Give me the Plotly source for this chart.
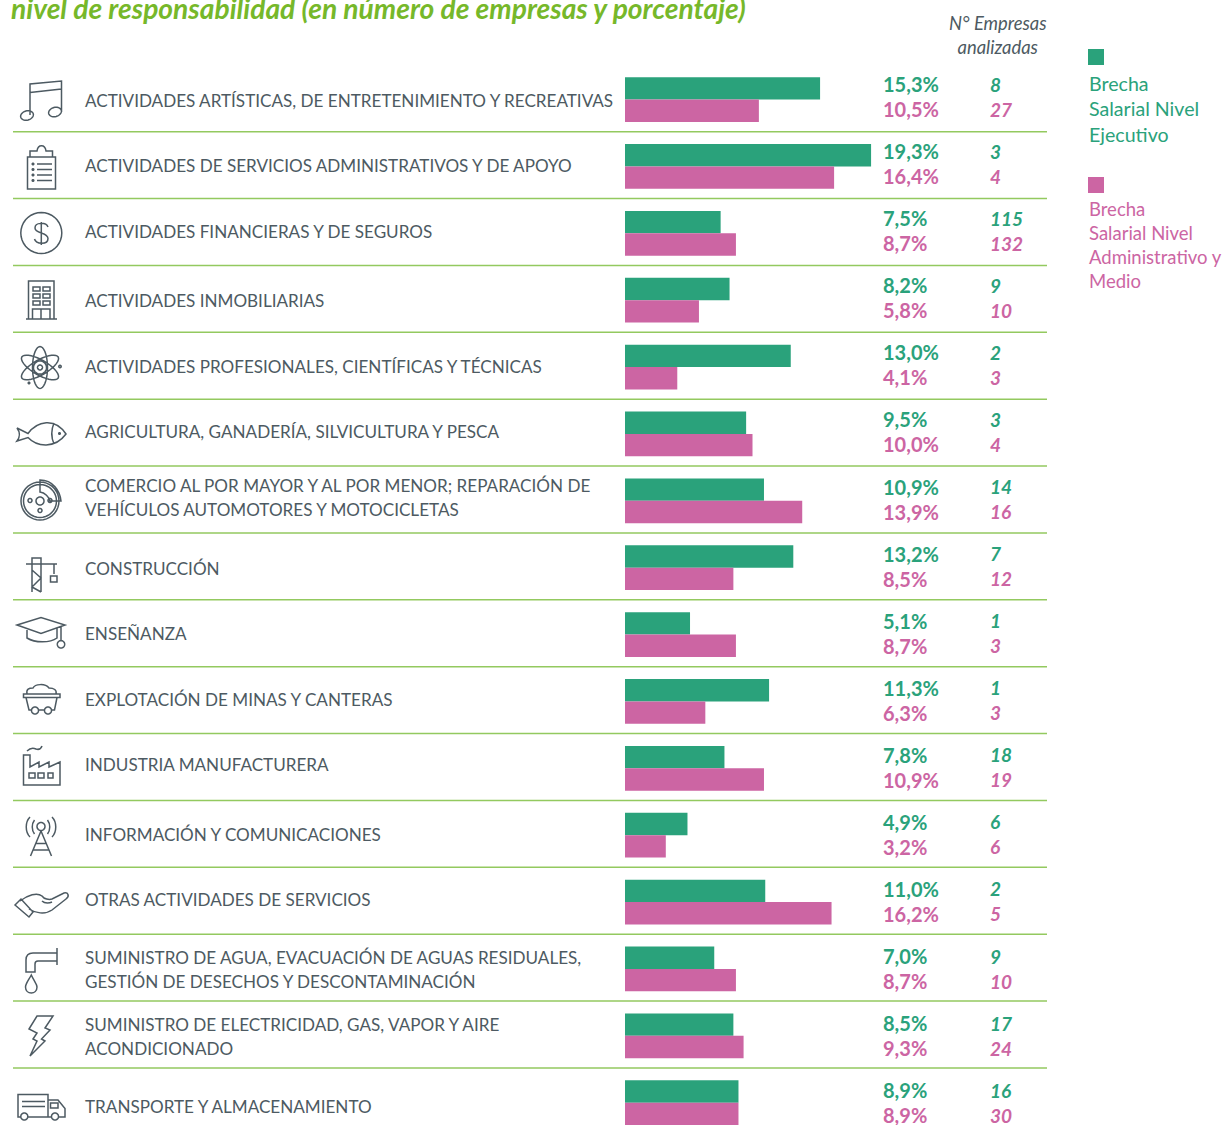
import math
import plotly.graph_objects as go

# ---------- data ----------
SECTORS = [
    "ACTIVIDADES ARTÍSTICAS, DE ENTRETENIMIENTO Y RECREATIVAS",
    "ACTIVIDADES DE SERVICIOS ADMINISTRATIVOS Y DE APOYO",
    "ACTIVIDADES FINANCIERAS Y DE SEGUROS",
    "ACTIVIDADES INMOBILIARIAS",
    "ACTIVIDADES PROFESIONALES, CIENTÍFICAS Y TÉCNICAS",
    "AGRICULTURA, GANADERÍA, SILVICULTURA Y PESCA",
    "COMERCIO AL POR MAYOR Y AL POR MENOR; REPARACIÓN DE<br>VEHÍCULOS AUTOMOTORES Y MOTOCICLETAS",
    "CONSTRUCCIÓN",
    "ENSEÑANZA",
    "EXPLOTACIÓN DE MINAS Y CANTERAS",
    "INDUSTRIA MANUFACTURERA",
    "INFORMACIÓN Y COMUNICACIONES",
    "OTRAS ACTIVIDADES DE SERVICIOS",
    "SUMINISTRO DE AGUA, EVACUACIÓN DE AGUAS RESIDUALES,<br>GESTIÓN DE DESECHOS Y DESCONTAMINACIÓN",
    "SUMINISTRO DE ELECTRICIDAD, GAS, VAPOR Y AIRE<br>ACONDICIONADO",
    "TRANSPORTE Y ALMACENAMIENTO",
]
EJECUTIVO = [15.3, 19.3, 7.5, 8.2, 13.0, 9.5, 10.9, 13.2, 5.1, 11.3, 7.8, 4.9, 11.0, 7.0, 8.5, 8.9]
ADMINISTRATIVO = [10.5, 16.4, 8.7, 5.8, 4.1, 10.0, 13.9, 8.5, 8.7, 6.3, 10.9, 3.2, 16.2, 8.7, 9.3, 8.9]
EMPRESAS_EJECUTIVO = [8, 3, 115, 9, 2, 3, 14, 7, 1, 1, 18, 6, 2, 9, 17, 16]
EMPRESAS_ADMINISTRATIVO = [27, 4, 132, 10, 3, 4, 16, 12, 3, 3, 19, 6, 5, 10, 24, 30]
SERIES_EJECUTIVO = "Brecha<br>Salarial Nivel<br>Ejecutivo"
SERIES_ADMINISTRATIVO = "Brecha<br>Salarial Nivel<br>Administrativo y<br>Medio"
TITLE = "nivel de responsabilidad (en número de empresas y porcentaje)"
HEADER = "N° Empresas<br>analizadas"

# ---------- style / layout ----------
W, H = 1223, 1125
GREEN, PINK, GREY = "#2AA27B", "#CC65A3", "#4D5A62"
RULE, TITLE_GREEN = "#93C95F", "#76B82A"
FONT = "Lato"
PX_PER_PCT = 12.75
BAR_X0 = 625
ROW0 = 99.6
ROW_H = 66.87
LABEL_Y = [100, 165, 231, 300, 366, 431, 497, 568, 633, 699, 764, 834, 899, 969, 1036, 1106]

rows = list(range(len(SECTORS)))
fig = go.Figure()
fig.add_bar(y=rows, x=EJECUTIVO, orientation="h", marker=dict(color=GREEN, line_width=0),
            name="Ejecutivo", hoverinfo="skip")
fig.add_bar(y=rows, x=ADMINISTRATIVO, orientation="h", marker=dict(color=PINK, line_width=0),
            name="Administrativo y Medio", hoverinfo="skip")

ann = []
def text(x, y, s, size, color, xanchor="left", italic=False, bold=False, yref="y2", yshift=0, font=FONT, align="left"):
    ann.append(dict(x=x, y=y, xref="x2", yref=yref, text=s, showarrow=False, xanchor=xanchor,
                    yanchor="middle", align=align, yshift=yshift, borderpad=0,
                    font=dict(family=font, size=size, color=color,
                              style="italic" if italic else "normal",
                              weight=700 if bold else 400)))

fmt = lambda v: f"{v:.1f}%".replace(".", ",")
for i in rows:
    lines = SECTORS[i].split("<br>")
    for n, line in enumerate(lines):
        text(84, LABEL_Y[i] + 24 * (n - (len(lines) - 1) / 2), line, 17.1, GREY)
    up, down = 15.5 - 0.2 * i, -9.5 - 0.2 * i
    text(882, i, fmt(EJECUTIVO[i]), 20, GREEN, yref="y", yshift=up, bold=True)
    text(882, i, fmt(ADMINISTRATIVO[i]), 20, PINK, yref="y", yshift=down, bold=True)
    text(988.5, i, str(EMPRESAS_EJECUTIVO[i]), 19, GREEN, yref="y", yshift=up, italic=True, bold=True)
    text(988.5, i, str(EMPRESAS_ADMINISTRATIVO[i]), 19, PINK, yref="y", yshift=down, italic=True, bold=True)

text(10, 8, TITLE, 28.2, TITLE_GREEN, italic=True, bold=True)
text(998, 35, HEADER, 18.4, GREY, xanchor="center", italic=True, align="center")
text(1088, 109, SERIES_EJECUTIVO, 19.6, GREEN)
text(1088, 244.5, SERIES_ADMINISTRATIVO, 18.5, PINK)

shapes = []
for k in range(len(SECTORS) - 1):
    shapes.append(dict(type="line", xref="x2", yref="y", x0=13, x1=1047, y0=k + 0.48, y1=k + 0.48,
                       line=dict(color=RULE, width=1.5)))
shapes.append(dict(type="rect", xref="x2", yref="y2", x0=1088, x1=1104, y0=49, y1=65, fillcolor=GREEN, line_width=0))
shapes.append(dict(type="rect", xref="x2", yref="y2", x0=1088, x1=1104, y0=177, y1=193, fillcolor=PINK, line_width=0))

# ---------- decorative line icons ----------
def ell(cx, cy, rx, ry, rot=0):
    c, s = math.cos(math.radians(rot)), math.sin(math.radians(rot))
    pts = []
    for n in range(36):
        a = 2 * math.pi * n / 36
        x, y = rx * math.cos(a), ry * math.sin(a)
        pts.append(f"{cx + x * c - y * s:.2f},{cy + x * s + y * c:.2f}")
    return "M" + " L".join(pts) + " Z "

def box(x0, y0, x1, y1):
    return f"M{x0},{y0} H{x1} V{y1} H{x0} Z "

ICONS = [
    # music
    "M30,115 V84 L61.5,81 V112 M30,92.5 L61.5,89 " + ell(27, 115.5, 6.5, 4.6, -15) + ell(55, 112, 6.5, 4.6, -15),
    # clipboard
    "M30,157 H27.5 V189 H55.5 V157 H53 M30,151 H37 C38,144 45,144 46,151 H52.5 V157 H30 Z "
    "M37,164 H52 M37,169.5 H52 M37,175 H52 M37,180.5 H52 "
    + ell(33, 164, .8, .8) + ell(33, 169.5, .8, .8) + ell(33, 175, .8, .8) + ell(33, 180.5, .8, .8),
    # dollar
    ell(41.3, 233, 20.5, 20.5) + "M48,227 C46,222 35,222 35,228 C35,234 48,232 48,238.5 C48,245 36,244.5 34.5,239 M41.3,222 V245",
    # building
    box(28.5, 281, 54, 319) + "M26,319 H57 " + box(33, 287, 40, 291) + box(43, 287, 50, 291)
    + box(33, 294, 40, 298) + box(43, 294, 50, 298) + box(33, 301, 40, 305) + box(43, 301, 50, 305)
    + "M32.5,319 V309 H50 V319 M41,309 V319",
    # atom
    ell(40, 367.5, 7.5, 21) + ell(40, 367.5, 7.5, 21, 60) + ell(40, 367.5, 7.5, 21, -60)
    + ell(40, 367.5, 6.5, 6.5) + ell(40, 367.5, 2.5, 2.5) + ell(60, 366.5, 1.2, 1.2) + ell(29, 383, .8, .8),
    # fish
    "M17,428 L28,433.5 C37,421 55,417 66,434 C55,449 37,447 28,437.5 L17,441 C20,437 20,432 17,428 Z "
    "M54,423 C51,430 51,437 54,444 " + ell(59.5, 433.5, .8, .8),
    # brake disc
    ell(40, 501, 19, 19) + ell(40, 501, 16.5, 16.5) + ell(40, 501, 4, 4) + ell(30, 500.5, 2, 2)
    + ell(40, 510.5, 2, 2) + ell(50, 500.5, 2, 2)
    + "M40,480 C53,480 60,491 61,501 L50,501 C49,497 45,492.5 40,492 Z",
    # crane
    "M32,592 V558 H41 V592 M26,564 H57 M32,570 L41,578 L32,587 L41,592 M54,564 V574 " + box(50.5, 576, 57, 582),
    # graduation cap
    "M17,625 L41,617.5 L65,625 L41,633.5 Z M27,628 V638 C35,643 50,643 57,638 V628 M61,626 V640.5 " + ell(61, 644.3, 3.7, 3.7),
    # mine cart
    box(23.5, 694, 60, 697.5) + "M26,697.5 L29,710 H31.5 M38.5,710 H44.5 M51.5,710 H54.5 L57,697.5 "
    + ell(35, 710.5, 3.5, 3.5) + ell(48, 710.5, 3.5, 3.5)
    + "M27,694 C26,689 29,688 33,688 C35,684 45,683 49,688 C54,688 57,690 56,694",
    # factory
    "M23.5,785 V755 H30 V767 L39,762 V767 L49,762 V767 L60,762 V785 Z M27,751 C31,747 34,748 36,749 C39,750 41,749 42,746 "
    + box(29, 773, 35, 778) + box(38, 773, 44, 778) + box(48, 773, 53, 778),
    # antenna
    "M41,831 L30.5,856 M41,831 L51.5,856 M35.5,843.5 H46.5 M33,850 H49 " + ell(41, 826.5, 4, 4)
    + "M34.5,820 C31.5,824 31.5,830 34.5,834 M47.5,820 C50.5,824 50.5,830 47.5,834 "
    "M30,817 C25,822 25,832 30,837 M52,817 C57,822 57,832 52,837",
    # hand
    "M20,901 C28,895 37,892 42,896 C44,899 49,900 52,899 L64,893 C68,892 70,896 66,899 L52,910 C45,915 35,913 29,909 "
    "M42,901 C45,904 50,903 52,902 M15,905 L21,899 L33,912 L29,917 Z",
    # faucet
    "M57,948 V965 M57,953 H33 C28,953 26,956 26,960 V972 H35 V964 C35,962 36,961 38,961 H57 "
    "M31.3,975 C28,981 25.5,984 25.5,987 C25.5,995 37,995 37,987 C37,984 34,981 31.3,975 Z",
    # lightning
    "M37,1016 H53 L45,1028 L50,1030 L41.5,1039 L45,1041 L30,1056 L37,1041 L33,1039 L37,1033 L29,1029 Z",
    # truck
    "M21,1117 H18 V1094.5 H48 V1117 H27.5 M22,1101.5 H45 M22,1106.5 H45 M48,1100 H58 L65,1108.5 V1117 H58.5 M51.5,1117 H48 "
    + box(50.5, 1103, 58, 1108) + ell(24.3, 1116.5, 3.5, 3.5) + ell(55, 1116.5, 3.5, 3.5),
]
for p in ICONS:
    shapes.append(dict(type="path", xref="x2", yref="y2", path=p, line=dict(color=GREY, width=1.5)))

fig.update_layout(
    width=W, height=H, margin=dict(l=0, r=0, t=0, b=0), autosize=False,
    paper_bgcolor="white", plot_bgcolor="white", showlegend=False,
    barmode="group", bargap=0.33, bargroupgap=0,
    xaxis=dict(range=[-BAR_X0 / PX_PER_PCT, (W - BAR_X0) / PX_PER_PCT], visible=False, domain=[0, 1], fixedrange=True),
    yaxis=dict(range=[(H - ROW0) / ROW_H, -ROW0 / ROW_H], visible=False, domain=[0, 1], fixedrange=True),
    xaxis2=dict(range=[0, W], visible=False, overlaying="x", anchor="y2", fixedrange=True),
    yaxis2=dict(range=[H, 0], visible=False, overlaying="y", anchor="x2", fixedrange=True),
    annotations=ann, shapes=shapes,
)
fig.write_html("out.html", config={"displayModeBar": False},
               post_script="document.body.style.margin='0';")
